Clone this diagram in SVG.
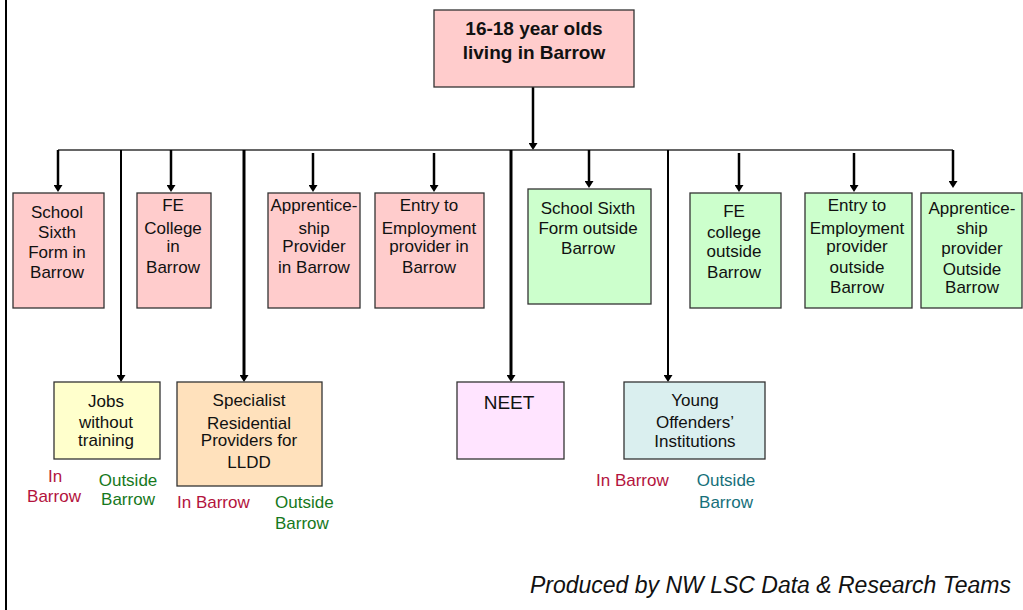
<svg xmlns="http://www.w3.org/2000/svg" width="1023" height="610" viewBox="0 0 1023 610">
<defs>
<marker id="ah" markerUnits="userSpaceOnUse" viewBox="0 0 7 9" markerWidth="7" markerHeight="9" refX="1" refY="4.5" orient="auto">
<path d="M0,0 L7,4.5 L0,9 z" fill="#000"/>
</marker>
<style>
.box{stroke:#333;stroke-width:1.3}
.pink{fill:#FFCCCC}
.green{fill:#CCFFCC}
.t{font-family:"Liberation Sans",Arial,sans-serif;font-size:17px;fill:#111;text-anchor:middle}
.tb{font-family:"Liberation Sans",Arial,sans-serif;font-size:19px;font-weight:bold;fill:#111;text-anchor:middle}
.lbl{font-family:"Liberation Sans",Arial,sans-serif;font-size:17px}
.red{fill:#B3133D}
.grn{fill:#16781C}
.teal{fill:#16707A}
.arr{stroke:#000;stroke-width:2.5;fill:none;marker-end:url(#ah)}
.drop{stroke:#000;fill:none;marker-end:url(#ah)}
.bar{stroke:#333;stroke-width:1.3;fill:none}
</style>
</defs>
<rect width="1023" height="610" fill="#fff"/>
<line x1="6" y1="0" x2="6" y2="610" stroke="#000" stroke-width="2"/>

<g id="connectors">
<line class="arr" x1="533" y1="87" x2="533" y2="144"/>
<line class="bar" x1="58" y1="150" x2="953" y2="150"/>
<line class="arr" x1="58" y1="150" x2="58" y2="186"/>
<line class="drop" stroke-width="2" x1="121" y1="150" x2="121" y2="376"/>
<line class="arr" x1="171" y1="150" x2="171" y2="186"/>
<line class="drop" stroke-width="3" x1="244" y1="150" x2="244" y2="376"/>
<line class="arr" x1="313" y1="153" x2="313" y2="186"/>
<line class="arr" x1="434" y1="153" x2="434" y2="186"/>
<line class="drop" stroke-width="3" x1="511" y1="150" x2="511" y2="376"/>
<line class="arr" x1="589" y1="150" x2="589" y2="182"/>
<line class="drop" stroke-width="2" x1="668" y1="150" x2="668" y2="376"/>
<line class="arr" x1="739" y1="153" x2="739" y2="186"/>
<line class="arr" x1="854" y1="153" x2="854" y2="186"/>
<line class="arr" x1="953" y1="150" x2="953" y2="182"/>
</g>

<g id="root">
<rect class="box pink" x="434" y="10" width="200" height="77"/>
<text class="tb" x="534" y="35">16-18 year olds</text>
<text class="tb" x="534" y="59">living in Barrow</text>
</g>

<g id="school-sixth-in">
<rect class="box pink" x="13" y="193" width="91" height="115"/>
<text class="t" x="57" y="218">School</text>
<text class="t" x="57" y="238">Sixth</text>
<text class="t" x="57" y="258">Form in</text>
<text class="t" x="57" y="278">Barrow</text>
</g>

<g id="fe-college-in">
<rect class="box pink" x="137" y="193" width="74" height="115"/>
<text class="t" x="173" y="211">FE</text>
<text class="t" x="173" y="234">College</text>
<text class="t" x="173" y="252">in</text>
<text class="t" x="173" y="273">Barrow</text>
</g>

<g id="apprenticeship-in">
<rect class="box pink" x="268" y="193" width="92" height="115"/>
<text class="t" x="314" y="211">Apprentice-</text>
<text class="t" x="314" y="234">ship</text>
<text class="t" x="314" y="252">Provider</text>
<text class="t" x="314" y="273">in Barrow</text>
</g>

<g id="e2e-in">
<rect class="box pink" x="375" y="193" width="109" height="115"/>
<text class="t" x="429" y="211">Entry to</text>
<text class="t" x="429" y="234">Employment</text>
<text class="t" x="429" y="252">provider in</text>
<text class="t" x="429" y="273">Barrow</text>
</g>

<g id="school-sixth-out">
<rect class="box green" x="528" y="189" width="123" height="115"/>
<text class="t" x="588" y="214">School Sixth</text>
<text class="t" x="588" y="234">Form outside</text>
<text class="t" x="588" y="254">Barrow</text>
</g>

<g id="fe-college-out">
<rect class="box green" x="690" y="193" width="91" height="115"/>
<text class="t" x="734" y="217">FE</text>
<text class="t" x="734" y="238">college</text>
<text class="t" x="734" y="257">outside</text>
<text class="t" x="734" y="278">Barrow</text>
</g>

<g id="e2e-out">
<rect class="box green" x="805" y="193" width="107" height="115"/>
<text class="t" x="857" y="211">Entry to</text>
<text class="t" x="857" y="234">Employment</text>
<text class="t" x="857" y="252">provider</text>
<text class="t" x="857" y="273">outside</text>
<text class="t" x="857" y="293">Barrow</text>
</g>

<g id="apprenticeship-out">
<rect class="box green" x="921" y="193" width="101" height="115"/>
<text class="t" x="972" y="214">Apprentice-</text>
<text class="t" x="972" y="234">ship</text>
<text class="t" x="972" y="254">provider</text>
<text class="t" x="972" y="275">Outside</text>
<text class="t" x="972" y="293">Barrow</text>
</g>

<g id="jobs-without-training">
<rect class="box" fill="#FFFFCC" x="54" y="382" width="106" height="77"/>
<text class="t" x="106" y="407">Jobs</text>
<text class="t" x="106" y="428">without</text>
<text class="t" x="106" y="446">training</text>
<text class="lbl red" x="55" y="482" text-anchor="middle">In</text>
<text class="lbl red" x="54" y="502" text-anchor="middle">Barrow</text>
<text class="lbl grn" x="128" y="486" text-anchor="middle">Outside</text>
<text class="lbl grn" x="128" y="505" text-anchor="middle">Barrow</text>
</g>

<g id="specialist-residential">
<rect class="box" fill="#FFE1BC" x="177" y="382" width="145" height="104"/>
<text class="t" x="249" y="406">Specialist</text>
<text class="t" x="249" y="429">Residential</text>
<text class="t" x="249" y="446">Providers for</text>
<text class="t" x="249" y="468">LLDD</text>
<text class="lbl red" x="177" y="508">In Barrow</text>
<text class="lbl grn" x="275" y="508">Outside</text>
<text class="lbl grn" x="275" y="529">Barrow</text>
</g>

<g id="neet">
<rect class="box" fill="#FFE4FF" x="457" y="382" width="107" height="77"/>
<text class="t" x="509" y="409" style="font-size:19px">NEET</text>
</g>

<g id="young-offenders">
<rect class="box" fill="#DAEFEF" x="624" y="382" width="141" height="77"/>
<text class="t" x="695" y="406">Young</text>
<text class="t" x="695" y="428">Offenders’</text>
<text class="t" x="695" y="447">Institutions</text>
<text class="lbl red" x="596" y="486">In Barrow</text>
<text class="lbl teal" x="726" y="486" text-anchor="middle">Outside</text>
<text class="lbl teal" x="726" y="508" text-anchor="middle">Barrow</text>
</g>

<text x="1011" y="593" text-anchor="end" font-family="'Liberation Sans',Arial,sans-serif" font-size="23" font-style="italic" fill="#111">Produced by NW LSC Data &amp; Research Teams</text>
</svg>
